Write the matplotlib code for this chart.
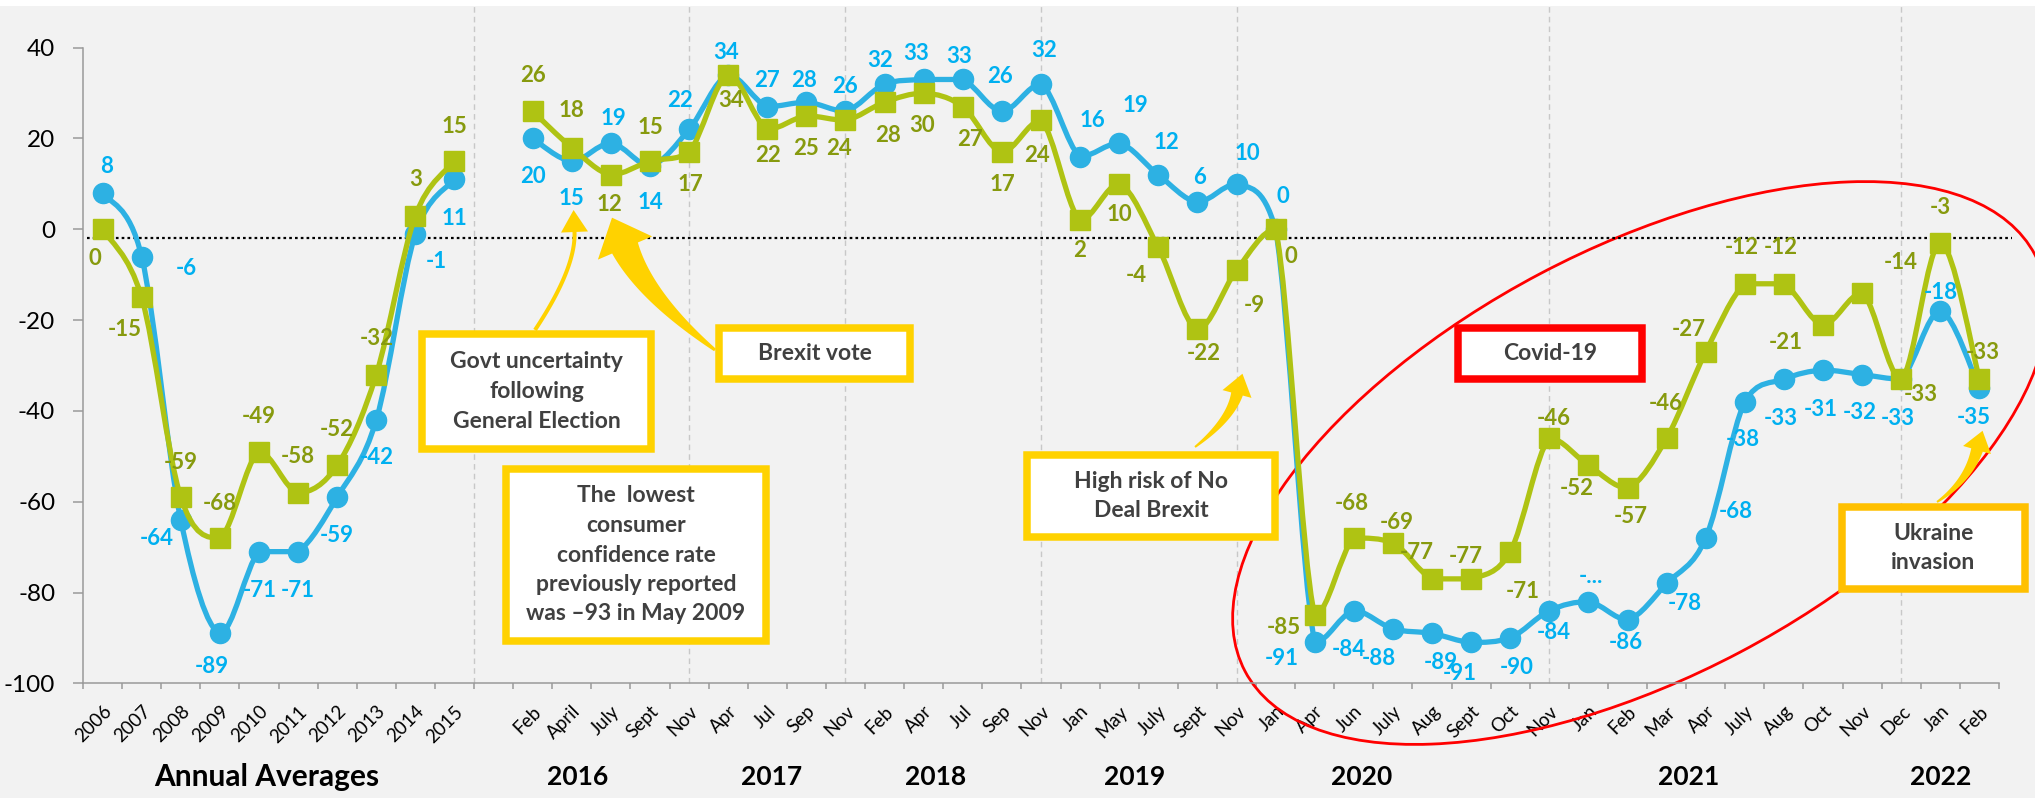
import numpy as np
import matplotlib
matplotlib.use('Agg')
import matplotlib.pyplot as plt
from matplotlib.path import Path
from matplotlib.patches import PathPatch, Rectangle, Ellipse, Polygon
from matplotlib.transforms import Affine2D

plt.rcParams['font.family'] = ['Lato', 'DejaVu Sans']
plt.rcParams['axes.unicode_minus'] = False

# x categories: annual averages, an empty slot, then survey months
annual = ['2006', '2007', '2008', '2009', '2010', '2011', '2012', '2013', '2014', '2015']
months_2016 = ['Feb', 'April', 'July', 'Sept', 'Nov']
months_2017 = ['Apr', 'Jul', 'Sep', 'Nov']
months_2018 = ['Feb', 'Apr', 'Jul', 'Sep', 'Nov']
months_2019 = ['Jan', 'May', 'July', 'Sept', 'Nov']
months_2020 = ['Jan', 'Apr', 'Jun', 'July', 'Aug', 'Sept', 'Oct', 'Nov']
months_2021 = ['Jan', 'Feb', 'Mar', 'Apr', 'July', 'Aug', 'Oct', 'Nov', 'Dec']
months_2022 = ['Jan', 'Feb']
categories = (annual + [''] + months_2016 + months_2017 + months_2018
              + months_2019 + months_2020 + months_2021 + months_2022)

# blue circles and green squares (None = gap)
blue = [8, -6, -64, -89, -71, -71, -59, -42, -1, 11, None,
        20, 15, 19, 14, 22,
        34, 27, 28, 26,
        32, 33, 33, 26, 32,
        16, 19, 12, 6, 10,
        0, -91, -84, -88, -89, -91, -90, -84,
        -82, -86, -78, -68, -38, -33, -31, -32, -33,
        -18, -35]
green = [0, -15, -59, -68, -49, -58, -52, -32, 3, 15, None,
         26, 18, 12, 15, 17,
         34, 22, 25, 24,
         28, 30, 27, 17, 24,
         2, 10, -4, -22, -9,
         0, -85, -68, -69, -77, -77, -71, -46,
         -52, -57, -46, -27, -12, -12, -21, -14, -33,
         -3, -33]
blue_text = {38: '-...'}  # label is cut off like this in the source

groups = ['Annual Averages', '2016', '2017', '2018', '2019', '2020', '2021', '2022']

# label offsets in pixels (dx right, dy down) from each point
blue_off = [(4, -26), (45, 12), (-24, 19), (-8, 33), (1, 39), (0, 39), (0, 38), (0, 38), (21, 28), (0, 39), None,
            (0, 38), (0, 37), (3, -25), (0, 37), (-9, -29),
            (-2, -22), (0, -26), (-2, -22), (0, -25),
            (-4, -24), (-8, -26), (-4, -23), (-2, -35), (3, -34),
            (12, -36), (16, -38), (8, -32), (2, -25), (11, -30),
            (7, -33), (-33, 16), (-5, 39), (-14, 30), (9, 29), (-11, 31), (6, 30), (4, 22),
            (3, -25), (-2, 23), (18, 20), (30, -27), (-2, 38), (-3, 39), (-2, 39), (-2, 38), (-3, 39),
            (0, -19), (-6, 29)]
green_off = [(-8, 29), (-17, 32), (0, -35), (0, -35), (0, -35), (0, -36), (0, -36), (0, -36), (0, -36), (0, -35), None,
             (0, -36), (0, -37), (-1, 30), (0, -34), (1, 32),
             (3, 26), (1, 26), (0, 33), (-6, 28),
             (3, 33), (-2, 32), (7, 33), (1, 32), (-4, 35),
             (-1, 30), (0, 31), (-22, 28), (6, 24), (18, 35),
             (15, 27), (-31, 12), (-2, -35), (4, -20), (-15, -26), (-5, -22), (13, 40), (4, -20),
             (-12, 23), (3, 28), (-1, -35), (-17, -22), (-3, -36), (-3, -36), (-37, 18), (39, -30), (20, 15),
             (0, -35), (3, -27)]

BG = '#F2F2F2'
BLUE = '#2DB1E3'
BLUE_TXT = '#00B0F0'
GREEN = '#AFC313'
GREEN_TXT = '#879A0E'
YELLOW = '#FFD200'
GREY = '#9A9A9A'
BOX_TXT = '#404040'

W, H = 2035, 798
fig = plt.figure(figsize=(W / 100, H / 100), dpi=100)
fig.patch.set_facecolor(BG)
ax = fig.add_axes([83 / W, 1 - 683.3 / H, 1916 / W, 635.6 / H])
ax.set_facecolor(BG)
ax.set_xlim(-0.5, len(categories) - 0.5)
ax.set_ylim(-100, 40)

# image-pixel frame (y down) for the call-out shapes
img = Affine2D().scale(0.01, -0.01).translate(0, H / 100) + fig.dpi_scale_trans
fig.add_artist(Rectangle((0, 0), W, 6, transform=img, fc='white', ec='none', zorder=-1))


def segments(vals):
    seg = []
    for i, v in enumerate(vals):
        if v is None:
            if seg:
                yield seg
            seg = []
        else:
            seg.append(i)
    if seg:
        yield seg


def smooth(xs, ys):
    # excel style smoothed line, one cubic bezier per step, no overshoot
    pts = np.column_stack([xs, ys]).astype(float)
    n = len(pts)
    verts, codes = [pts[0]], [Path.MOVETO]
    for i in range(n - 1):
        a, b, c, d = pts[max(i - 1, 0)], pts[i], pts[i + 1], pts[min(i + 2, n - 1)]
        c1 = b + (c - a) / 6
        c2 = c - (d - b) / 6
        lo, hi = min(b[1], c[1]), max(b[1], c[1])
        c1[1] = np.clip(c1[1], lo, hi)
        c2[1] = np.clip(c2[1], lo, hi)
        verts += [c1, c2, c]
        codes += [Path.CURVE4] * 3
    return Path(verts, codes)


def draw_series(vals, color, marker, z):
    for idx in segments(vals):
        ys = [vals[i] for i in idx]
        ax.add_patch(PathPatch(smooth(idx, ys), fill=False, edgecolor=color, lw=3.8,
                               capstyle='round', joinstyle='round', zorder=z))
        ax.plot(idx, ys, ls='none', marker=marker, ms=14.5, color=color, zorder=z + 0.1)


def draw_labels(vals, offsets, color, overrides={}):
    for i, v in enumerate(vals):
        if v is None:
            continue
        dx, dy = offsets[i]
        ax.annotate(overrides.get(i, str(v)), (i, v), xytext=(dx, -dy), textcoords='offset pixels',
                    ha='center', va='center', fontsize=16, fontweight='bold', color=color,
                    zorder=7, annotation_clip=False)


def arrow(p0, c, p1, w0, w1, head_len, head_w, color='#FFD200'):
    t = np.linspace(0, 1, 50)[:, None]
    p0, c, p1 = map(np.asarray, (p0, c, p1))
    pts = (1 - t) ** 2 * p0 + 2 * (1 - t) * t * c + t ** 2 * p1
    d = 2 * (1 - t) * (c - p0) + 2 * t * (p1 - c)
    d = d / np.linalg.norm(d, axis=1, keepdims=True)
    nrm = np.column_stack([-d[:, 1], d[:, 0]])
    w = (w0 + (w1 - w0) * t) / 2
    tip = p1 + d[-1] * head_len
    poly = np.vstack([pts + nrm * w, p1 + nrm[-1] * head_w / 2, tip,
                      p1 - nrm[-1] * head_w / 2, (pts - nrm * w)[::-1]])
    ax.add_patch(Polygon(poly, closed=True, transform=img, fc=color, ec='none',
                         clip_on=False, zorder=8))


# separators and reference line
for x in [9.5, 15, 19, 24, 29, 37, 46]:
    ax.axvline(x, ymin=0, ymax=1.066, clip_on=False, color='#C8C8C8', lw=1, ls=(0, (4, 3)), zorder=1)
ax.axhline(-2, xmin=0.002, xmax=1.007, clip_on=False, color='black', lw=1.6, ls=(0, (1.2, 1.4)), zorder=2.5)

ax.add_patch(Ellipse((1640, 463), 893, 428, angle=-27.8, transform=img, fill=False,
                     ec='#FF0000', lw=2, clip_on=False, zorder=2.2))

draw_series(blue, BLUE, 'o', 3)
draw_series(green, GREEN, 's', 4)
draw_labels(blue, blue_off, BLUE_TXT, blue_text)
draw_labels(green, green_off, GREEN_TXT)

# axes styling
for side in ['top', 'right']:
    ax.spines[side].set_visible(False)
for side in ['left', 'bottom']:
    ax.spines[side].set_color(GREY)
    ax.spines[side].set_linewidth(1.1)
ax.set_yticks(range(-100, 41, 20))
ax.tick_params(axis='y', length=7, width=1.1, color=GREY, pad=13, labelsize=17.5, labelcolor='black')
ax.set_xticks(np.arange(-0.5, len(categories)), labels=[])
ax.set_xticks(np.arange(len(categories)), labels=categories, minor=True)
ax.tick_params(axis='x', which='major', length=4.5, width=1.1, color=GREY)
ax.tick_params(axis='x', which='minor', length=0, pad=14, labelsize=13.5, labelcolor='black')
plt.setp(ax.get_xticklabels(minor=True), rotation=45, ha='right', rotation_mode='anchor')

group_pos = [4.2, 12.15, 17.1, 21.3, 26.4, 32.2, 40.55, 47.0]
for name, x in zip(groups, group_pos):
    ax.text(x, -0.148, name, transform=ax.get_xaxis_transform(), ha='center', va='center',
            fontsize=21.5 if name.startswith('Annual') else 19, fontweight='bold', color='black')

# call-out boxes
callouts = [
    ('Govt uncertainty\nfollowing\nGeneral Election', (418, 330, 655, 453), YELLOW),
    ('Brexit vote', (715, 324, 914, 383), YELLOW),
    ('The  lowest\nconsumer\nconfidence rate\npreviously reported\nwas \u201393 in May 2009', (502, 465, 770, 645), YELLOW),
    ('High risk of No\nDeal Brexit', (1023, 451, 1279, 541), YELLOW),
    ('Covid-19', (1454, 324, 1646, 383), '#FF0000'),
    ('Ukraine\ninvasion', (1838, 503, 2029, 593), '#FFC000'),
]
for text, (x0, y0, x1, y1), ec in callouts:
    b = 3.75
    ax.add_patch(Rectangle((x0 + b, y0 + b), x1 - x0 - 2 * b, y1 - y0 - 2 * b, transform=img,
                           fc='white', ec=ec, lw=5.4, clip_on=False, zorder=9))
    ax.text((x0 + x1) / 2, (y0 + y1) / 2, text, transform=img, ha='center', va='center',
            fontsize=16.5, fontweight='bold', color=BOX_TXT, linespacing=1.5, zorder=10)

arrow((535, 330), (576, 268), (574.5, 232), 4, 4, 22, 27)
arrow((715, 350), (646, 297), (625, 248), 3, 28, 33, 59)
arrow((1195, 447), (1230, 420), (1237, 394), 2, 12, 21, 30)
arrow((1937, 502), (1968, 481), (1977, 450), 2, 12, 20, 29)

fig.savefig('out.png', dpi=100, facecolor=fig.get_facecolor())
